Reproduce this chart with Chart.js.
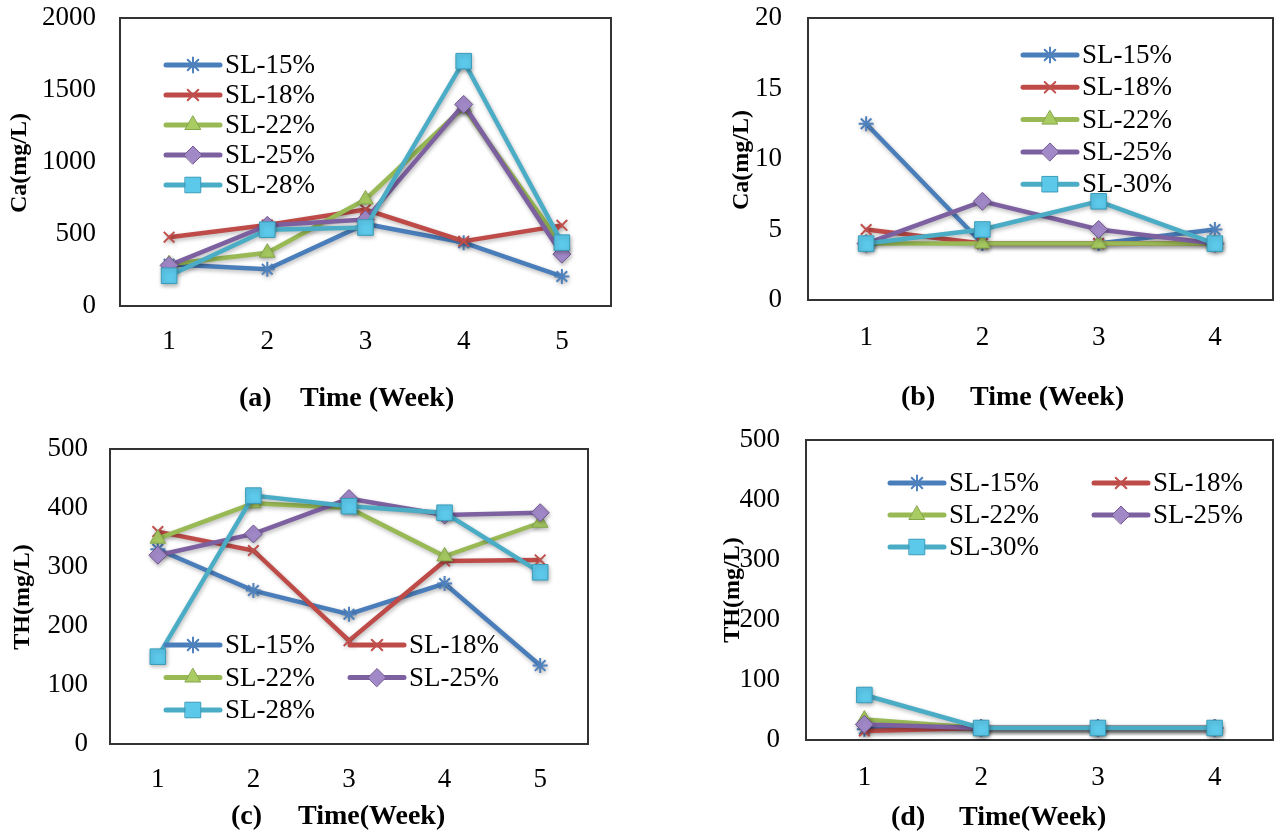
<!DOCTYPE html>
<html>
<head>
<meta charset="utf-8">
<title>Ca and TH vs time</title>
<script src="https://cdn.jsdelivr.net/npm/chart.js@4.4.1/dist/chart.umd.min.js"></script>
<style>
  body { margin: 0; background: #fff; }
  .panel { position: absolute; }
</style>
</head>
<body>
<canvas id="chartA" class="panel" width="640" height="420" style="left:0;top:0"></canvas>
<canvas id="chartB" class="panel" width="645" height="420" style="left:640px;top:0"></canvas>
<canvas id="chartC" class="panel" width="640" height="415" style="left:0;top:420px"></canvas>
<canvas id="chartD" class="panel" width="645" height="415" style="left:640px;top:420px"></canvas>
<script>
//data
const weeks5 = ['1', '2', '3', '4', '5'];
const weeks4 = ['1', '2', '3', '4'];
const namesA = ['SL-15%', 'SL-18%', 'SL-22%', 'SL-25%', 'SL-28%'];
const namesB = ['SL-15%', 'SL-18%', 'SL-22%', 'SL-25%', 'SL-30%'];

// (a) Ca, 5 weeks
const caA15 = [290, 255, 570, 440, 205];
const caA18 = [478, 562, 670, 450, 560];
const caA22 = [290, 370, 740, 1380, 420];
const caA25 = [282, 560, 600, 1400, 360];
const caA28 = [210, 530, 545, 1700, 440];

// (b) Ca, 4 weeks
const caB15 = [12.5, 4, 4, 5];
const caB18 = [5, 4, 4, 4];
const caB22 = [4, 4, 4, 4];
const caB25 = [4, 7, 5, 4];
const caB30 = [4, 5, 7, 4];

// (c) TH, 5 weeks
const thC15 = [330, 260, 220, 272, 133];
const thC18 = [360, 328, 175, 310, 312];
const thC22 = [348, 408, 400, 318, 375];
const thC25 = [320, 356, 416, 388, 392];
const thC28 = [148, 421, 403, 392, 291];

// (d) TH, 4 weeks
const thD15 = [18, 20, 20, 20];
const thD18 = [15, 20, 20, 20];
const thD22 = [34, 20, 20, 20];
const thD25 = [26, 20, 20, 20];
const thD30 = [75, 20, 20, 20];

// y tick labels
const yTicksA = [0, 500, 1000, 1500, 2000];
const yTicksB = [0, 5, 10, 15, 20];
const yTicksC = [0, 100, 200, 300, 400, 500];
const yTicksD = [0, 100, 200, 300, 400, 500];

//series look
const lineColors = ['#4A7EBB', '#BE4B48', '#98B954', '#7D60A0', '#4BACC6'];
const markFill = ['#4F81BD', '#C0504D', '#A8CB62', '#A189C8', '#5CC8EA'];
const markEdge = ['#4F81BD', '#C0504D', '#86A64A', '#71568F', '#3A9CB9'];
const markStyle = ['star', 'crossRot', 'triangle', 'rectRot', 'rect'];
const markSize = [7.5, 7.5, 9, 9, 11];
const markWidth = [2, 2, 1, 1, 1];

Chart.defaults.font.family = '"Liberation Serif", serif';
Chart.defaults.font.size = 27;
Chart.defaults.color = '#000';

//frame round the plot area, then a soft shadow for the series
const frame = {
  id: 'frame',
  beforeDatasetsDraw(chart) {
    const a = chart.chartArea;
    const ctx = chart.ctx;
    ctx.save();
    ctx.strokeStyle = '#333';
    ctx.lineWidth = 2;
    ctx.strokeRect(a.left, a.top, a.right - a.left, a.bottom - a.top);
    ctx.restore();
    ctx.save();
    ctx.shadowColor = 'rgba(0, 0, 0, 0.28)';
    ctx.shadowBlur = 4;
    ctx.shadowOffsetX = 1;
    ctx.shadowOffsetY = 2;
  },
  afterDatasetsDraw(chart) {
    chart.ctx.restore();
  }
};

//legend with line + marker samples
const lineLegend = {
  id: 'lineLegend',
  afterDatasetsDraw(chart, args, opts) {
    const ctx = chart.ctx;
    chart.data.datasets.forEach((ds, i) => {
      const col = i % opts.cols;
      const row = Math.floor(i / opts.cols);
      const x = opts.x + col * opts.colW;
      const y = opts.y + row * opts.rowH;
      ctx.save();
      ctx.strokeStyle = ds.borderColor;
      ctx.lineWidth = 5;
      ctx.lineCap = 'round';
      ctx.beginPath();
      ctx.moveTo(x, y);
      ctx.lineTo(x + 54, y);
      ctx.stroke();
      ctx.fillStyle = ds.pointBackgroundColor;
      ctx.strokeStyle = ds.pointBorderColor;
      ctx.lineWidth = ds.pointBorderWidth;
      Chart.helpers.drawPoint(ctx, {
        pointStyle: ds.pointStyle,
        radius: ds.pointRadius,
        rotation: 0,
        borderWidth: ds.pointBorderWidth
      }, x + 27, y);
      ctx.fillStyle = '#000';
      ctx.font = '27px "Liberation Serif"';
      ctx.textAlign = 'left';
      ctx.textBaseline = 'middle';
      ctx.fillText(ds.label, x + 59, y + 1);
      ctx.restore();
    });
  }
};

//axis captions
const captions = {
  id: 'captions',
  afterDraw(chart, args, opts) {
    const ctx = chart.ctx;
    ctx.save();
    ctx.fillStyle = '#000';
    ctx.textBaseline = 'middle';
    ctx.textAlign = 'left';
    ctx.font = 'bold 28px "Liberation Serif"';
    ctx.fillText(opts.tag, opts.tagX, opts.titleY);
    ctx.fillText(opts.xTitle, opts.xTitleX, opts.titleY);
    ctx.translate(opts.yTitleX, opts.yTitleY);
    ctx.rotate(-Math.PI / 2);
    ctx.textAlign = 'center';
    ctx.font = 'bold 24px "Liberation Serif"';
    ctx.fillText(opts.yTitle, 0, 0);
    ctx.restore();
  }
};

function makeSets(names, series) {
  return series.map((vals, i) => ({
    label: names[i],
    data: vals,
    borderColor: lineColors[i],
    borderWidth: 4.5,
    pointStyle: markStyle[i],
    pointRadius: markSize[i],
    pointBackgroundColor: markFill[i],
    pointBorderColor: markEdge[i],
    pointBorderWidth: markWidth[i],
    tension: 0,
    order: series.length - i
  }));
}

function makeChart(id, p) {
  const ticks = p.yTicks;
  return new Chart(document.getElementById(id), {
    type: 'line',
    data: { labels: p.labels, datasets: makeSets(p.names, p.series) },
    options: {
      responsive: false,
      animation: false,
      events: [],
      layout: { padding: { top: p.top, right: p.right, left: 0, bottom: 0 } },
      scales: {
        x: {
          offset: true,
          grid: { display: false, drawTicks: false },
          border: { display: false },
          ticks: { padding: p.xPad, maxRotation: 0 },
          afterFit: (s) => {
            s.height = p.xHeight;
            s.paddingLeft = 0;
            s.paddingRight = 0;
          }
        },
        y: {
          min: ticks[0],
          max: ticks[ticks.length - 1],
          grid: { display: false, drawTicks: false },
          border: { display: false },
          ticks: {
            stepSize: ticks[1] - ticks[0],
            padding: p.yPad,
            callback: (v) => String(v)
          },
          afterFit: (s) => {
            s.width = p.yWidth;
            s.paddingTop = 0;
            s.paddingBottom = 0;
          }
        }
      },
      plugins: {
        legend: { display: false },
        tooltip: { enabled: false },
        lineLegend: p.legend,
        captions: p.captions
      }
    },
    plugins: [frame, lineLegend, captions]
  });
}

makeChart('chartA', {
  labels: weeks5, names: namesA,
  series: [caA15, caA18, caA22, caA25, caA28],
  yTicks: yTicksA,
  top: 18, right: 29, yWidth: 120, xHeight: 114, xPad: 20, yPad: 24,
  legend: { x: 166, y: 65, rowH: 30, cols: 1, colW: 0 },
  captions: { tag: '(a)', tagX: 239, xTitle: 'Time (Week)', xTitleX: 300, titleY: 399,
              yTitle: 'Ca(mg/L)', yTitleX: 20, yTitleY: 163 }
});

makeChart('chartB', {
  labels: weeks4, names: namesB,
  series: [caB15, caB18, caB22, caB25, caB30],
  yTicks: yTicksB,
  top: 18, right: 1, yWidth: 168, xHeight: 120, xPad: 22, yPad: 26,
  legend: { x: 383, y: 55, rowH: 32.3, cols: 1, colW: 0 },
  captions: { tag: '(b)', tagX: 261, xTitle: 'Time (Week)', xTitleX: 330, titleY: 398,
              yTitle: 'Ca(mg/L)', yTitleX: 102, yTitleY: 160 }
});

makeChart('chartC', {
  labels: weeks5, names: namesA,
  series: [thC15, thC18, thC22, thC25, thC28],
  yTicks: yTicksC,
  top: 29, right: 52, yWidth: 110, xHeight: 91, xPad: 20, yPad: 22,
  legend: { x: 166, y: 225, rowH: 32.5, cols: 2, colW: 184 },
  captions: { tag: '(c)', tagX: 231, xTitle: 'Time(Week)', xTitleX: 298, titleY: 397,
              yTitle: 'TH(mg/L)', yTitleX: 23, yTitleY: 177 }
});

makeChart('chartD', {
  labels: weeks4, names: namesB,
  series: [thD15, thD18, thD22, thD25, thD30],
  yTicks: yTicksD,
  top: 20, right: 1, yWidth: 166, xHeight: 95, xPad: 22, yPad: 26,
  legend: { x: 250, y: 63, rowH: 32, cols: 2, colW: 204 },
  captions: { tag: '(d)', tagX: 251, xTitle: 'Time(Week)', xTitleX: 319, titleY: 398,
              yTitle: 'TH(mg/L)', yTitleX: 93, yTitleY: 170 }
});
</script>
</body>
</html>
